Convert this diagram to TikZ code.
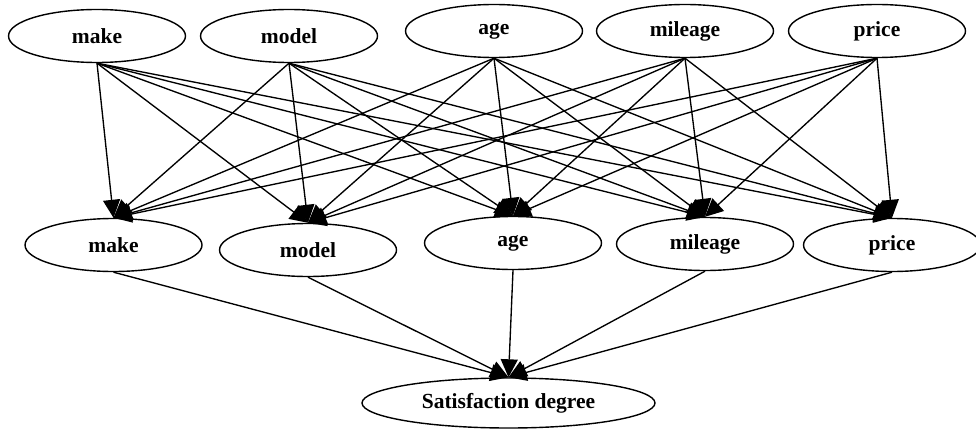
\documentclass[tikz,border=0pt]{standalone}
\usepackage{fontspec}
\setmainfont{Liberation Serif}
\usetikzlibrary{shapes.geometric,arrows.meta}
\tikzset{
  var/.style={ellipse,draw,line width=1.4pt,minimum width=177pt,minimum height=53pt,inner sep=0pt,
    font=\fontsize{21.5}{25}\selectfont\bfseries},
  goal/.style={var,minimum width=293pt,minimum height=50pt},
  link/.style={line width=1.35pt,-{Triangle[length=18pt,width=17pt]}}
}
\begin{document}
\begin{tikzpicture}[x=1pt,y=-1pt]
\useasboundingbox (0,0) rectangle (976,428);
% top row
\node[var] (tmake) at (97,36) {make};
\node[var] (tmodel) at (289,36) {model};
\node[var] (tage) at (494,31) {age};
\node[var] (tmileage) at (685,31) {mileage};
\node[var] (tprice) at (877,31) {price};
% middle row
\node[var] (mmake) at (113.5,245) {make};
\node[var] (mmodel) at (308,250) {model};
\node[var] (mage) at (513,243) {age};
\node[var] (mmileage) at (705,244) {mileage};
\node[var] (mprice) at (892,245) {price};
% bottom
\node[goal] (sat) at (508.5,403) {Satisfaction degree};
% edges
\foreach \s in {tmake,tmodel,tage,tmileage,tprice}{
  \foreach \t in {mmake,mmodel,mage,mmileage,mprice}{
    \draw[link] (\s.south) -- (\t.north);
  }
}
\foreach \s in {mmake,mmodel,mage,mmileage,mprice}{
  \draw[link] (\s.south) -- (sat.north);
}
\end{tikzpicture}
\end{document}
